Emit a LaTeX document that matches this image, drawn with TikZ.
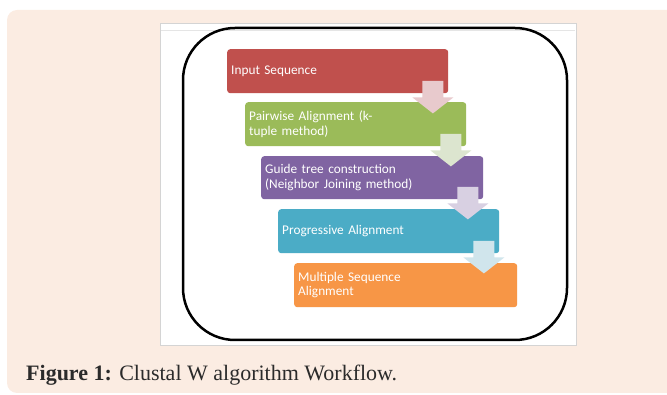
\documentclass[tikz,border=0pt]{standalone}
\usepackage{fontspec}
\setmainfont{Liberation Serif}
\newfontfamily\boxfont{Carlito}
\usetikzlibrary{calc}
\definecolor{beige}{HTML}{FBECE2}
\definecolor{frameg}{HTML}{D4D4D4}
\definecolor{cred}{HTML}{C0504D}
\definecolor{cgreen}{HTML}{9BBB59}
\definecolor{cpurple}{HTML}{8064A2}
\definecolor{cblue}{HTML}{4BACC6}
\definecolor{corange}{HTML}{F79646}
\definecolor{ared}{HTML}{E8CACD}
\definecolor{agreen}{HTML}{DCE5CF}
\definecolor{apurple}{HTML}{D8D0E2}
\definecolor{ablue}{HTML}{D0E5EC}
\definecolor{captxt}{HTML}{2B2B2B}
\tikzset{
  stepbox/.style={rectangle, rounded corners=3pt, anchor=north west, inner xsep=4pt, inner ysep=0pt,
    text=white, font=\boxfont\fontsize{13.3}{14.5}\selectfont, align=left, minimum height=44pt},
}
\newcommand{\blockarrow}[2]{%
  \begin{scope}[shift={(#1.south east)}]
    \fill[#2] (-26,-12.5) -- (-5,-12.5) -- (-5,4) -- (5,4) -- (-15.5,20) -- (-36,4) -- (-26,4) -- cycle;
  \end{scope}}
\begin{document}
\begin{tikzpicture}[x=1pt,y=-1pt]
\useasboundingbox (0,0) rectangle (667,395);
\clip (0,0) rectangle (667,395);
\fill[beige, rounded corners=10pt] (7,10) rectangle (690,393);
\filldraw[fill=white, draw=frameg, line width=0.8pt] (160,23) rectangle (576,345);
\draw[frameg!60, line width=0.6pt] (161,30) -- (575,30);
\draw[black, line width=2.5pt, rounded corners=52pt] (183,28) rectangle (567,340);
\node[stepbox, fill=cred, text width=213pt] (b1) at (227,49) {Input Sequence};
\node[stepbox, fill=cgreen, text width=213pt] (b2) at (245,102) {Pairwise Alignment\ (k-\\tuple method)};
\node[stepbox, fill=cpurple, text width=214pt, minimum height=43pt] (b3) at (261,156) {Guide tree construction\\(Neighbor Joining method)};
\node[stepbox, fill=cblue, text width=213pt] (b4) at (278,209) {Progressive Alignment};
\node[stepbox, fill=corange, text width=215pt] (b5) at (294,263) {Multiple Sequence\\Alignment};
\blockarrow{b1}{ared}
\blockarrow{b2}{agreen}
\blockarrow{b3}{apurple}
\blockarrow{b4}{ablue}
\node[anchor=base west, inner sep=0pt, text=captxt, font=\fontsize{22}{24}\selectfont] (cap) at (26,381) {\textbf{Figure 1:} Clustal W algorithm Workflow.};
\end{tikzpicture}
\end{document}
